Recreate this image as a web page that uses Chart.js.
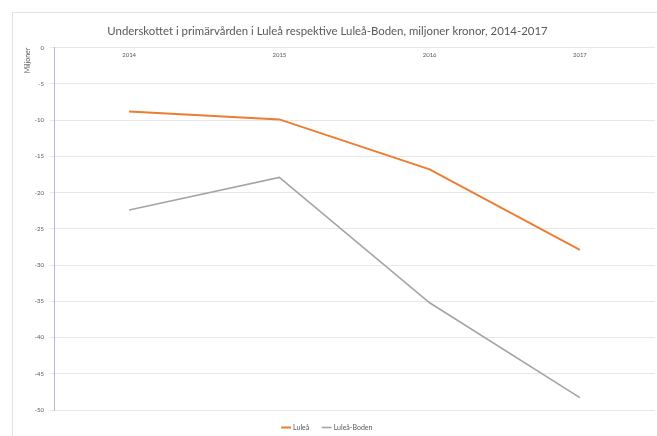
<!DOCTYPE html>
<html lang="sv">

<head>
    <meta charset="UTF-8">
    <title>Underskottet i primärvården</title>
    <script src="https://cdn.jsdelivr.net/npm/chart.js"></script>
    <style>
        body { margin: 0; background: #fff; }
        #ram { position: absolute; left: 12px; top: 12px; width: 660px; height: 440px; border: 1px solid #e3e3e3; }
        #grafico { position: absolute; left: 0; top: 0; width: 657px; height: 436px; }
    </style>
</head>

<body>
    <div id="ram"></div>
    <div id="grafico">
        <canvas id="myChartCanvas"></canvas>
    </div>
</body>

</html>

<script>
    // data läst från bilden (miljoner kronor)
    const ar = ['2014', '2015', '2016', '2017'];
    const lulea = [-8.8, -9.9, -16.8, -27.9];
    const luleaBoden = [-22.4, -17.9, -35.2, -48.3];
    const yTicks = [0, -5, -10, -15, -20, -25, -30, -35, -40, -45, -50];

    const typsnitt = "Lato, 'Open Sans', sans-serif";
    const textfarg = '#595959';

    const config = {
        type: 'line',
        data: {
            labels: ar,
            datasets: [{
                label: 'Luleå',
                data: lulea,
                borderColor: '#ED7D31',
                backgroundColor: '#ED7D31',
                borderWidth: 2,
                pointRadius: 0,
                tension: 0
            }, {
                label: 'Luleå-Boden',
                data: luleaBoden,
                borderColor: '#A5A5A5',
                backgroundColor: '#A5A5A5',
                borderWidth: 1.6,
                pointRadius: 0,
                tension: 0
            }]
        },
        options: {
            responsive: true,
            maintainAspectRatio: false,
            animation: false,
            layout: { padding: { left: 0, right: 2, top: 0, bottom: -5 } },
            plugins: {
                title: {
                    display: true,
                    text: 'Underskottet i primärvården i Luleå respektive Luleå-Boden, miljoner kronor, 2014-2017',
                    color: textfarg,
                    font: { size: 11.4, family: typsnitt, weight: 'normal' },
                    padding: { top: 24, bottom: 10 }
                },
                legend: {
                    position: 'bottom',
                    labels: {
                        usePointStyle: true,
                        pointStyle: 'line',
                        boxWidth: 16,
                        color: textfarg,
                        font: { size: 7, family: typsnitt },
                        padding: 14
                    }
                },
                tooltip: { enabled: false }
            },
            scales: {
                x: {
                    // årtalen står precis under nollinjen, som i originalet
                    position: { y: 0 },
                    offset: true,
                    grid: { display: false, drawTicks: false },
                    border: { display: false },
                    ticks: {
                        color: textfarg,
                        font: { size: 6, family: typsnitt },
                        padding: 4,
                        maxRotation: 0,
                        autoSkip: false
                    },
                    afterFit: function (scale) { scale.height = 0; }
                },
                y: {
                    min: -50,
                    max: 0,
                    afterBuildTicks: function (scale) {
                        scale.ticks = yTicks.map(v => ({ value: v }));
                    },
                    afterFit: function (scale) { scale.width = 54; },
                    grid: { color: '#e8e8e8', tickLength: 4 },
                    border: { color: '#b4bccc', width: 1 },
                    ticks: {
                        color: textfarg,
                        font: { size: 6, family: typsnitt },
                        padding: 6
                    },
                    title: {
                        display: true,
                        text: 'Miljoner',
                        align: 'end',
                        color: textfarg,
                        font: { size: 7, family: typsnitt },
                        padding: 24
                    }
                }
            }
        }
    };

    let myChart = new Chart(
        document.getElementById('myChartCanvas'),
        config
    );
</script>
